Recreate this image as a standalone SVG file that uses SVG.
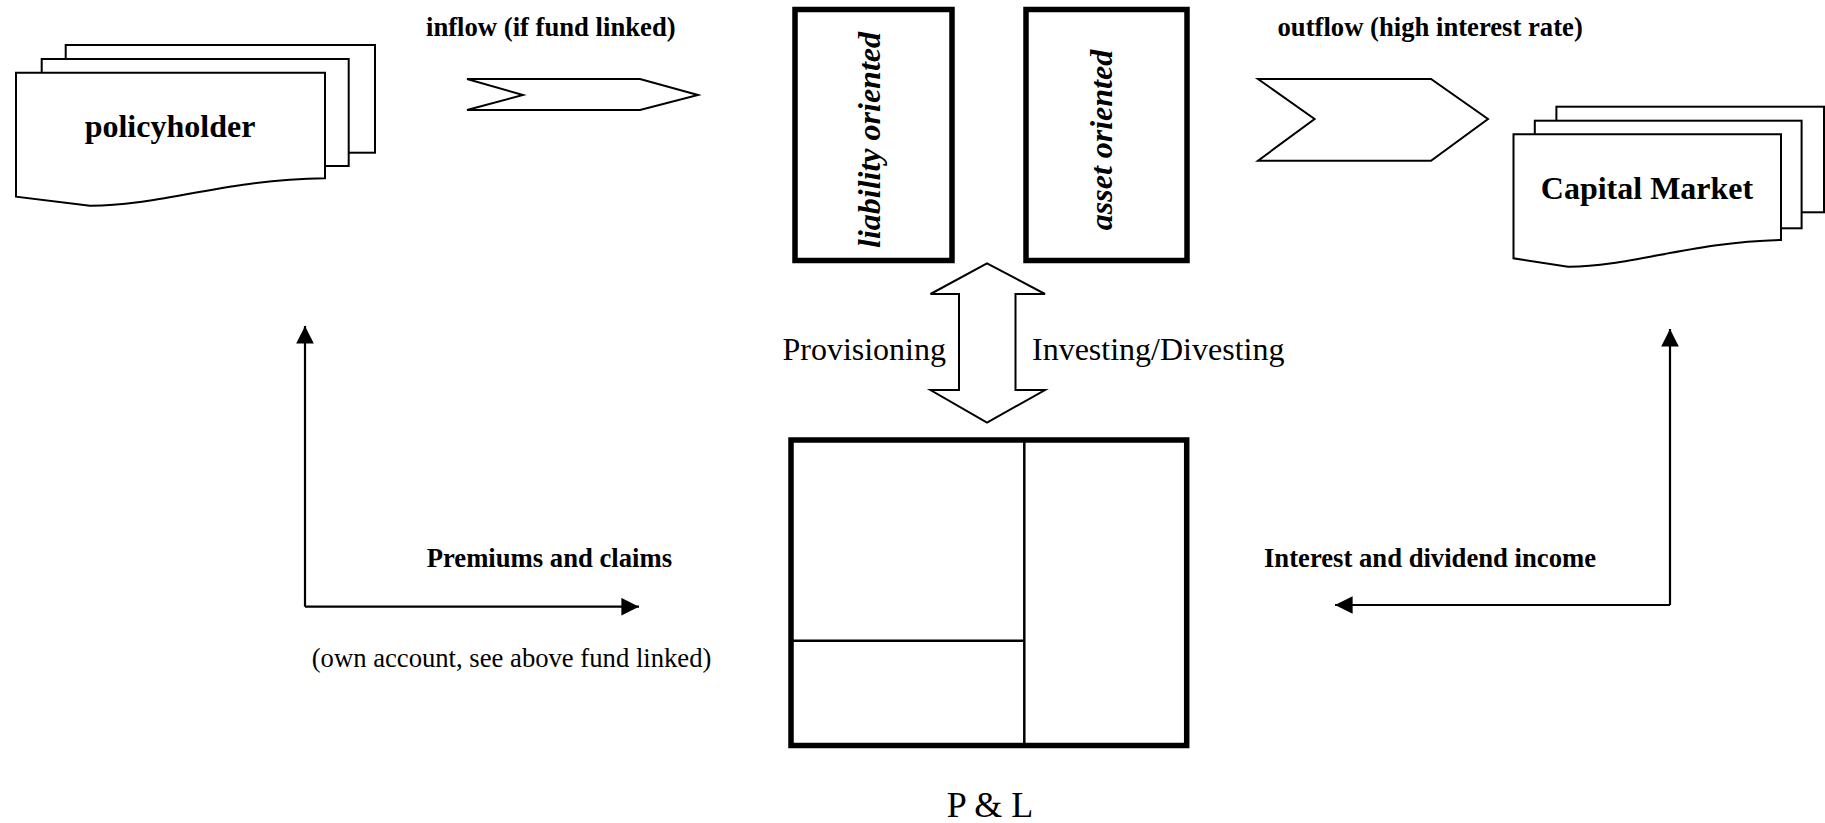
<svg xmlns="http://www.w3.org/2000/svg" width="1825" height="823" viewBox="0 0 1825 823">
<style>
  .pg { fill: #fff; stroke: #000; stroke-width: 2; }
  .thick { fill: #fff; stroke: #000; stroke-width: 5.5; }
  .thin { fill: none; stroke: #000; stroke-width: 2.5; }
  .conn { fill: none; stroke: #000; stroke-width: 2.2; }
  .b { font-family: "Liberation Serif", "Times New Roman", serif; font-weight: bold; fill: #000; }
  .r { font-family: "Liberation Serif", "Times New Roman", serif; fill: #000; }
  .bi { font-family: "Liberation Serif", "Times New Roman", serif; font-weight: bold; font-style: italic; fill: #000; }
</style>
<defs>
  <marker id="ah" viewBox="0 0 10 10" refX="10" refY="5" markerWidth="8" markerHeight="8" markerUnits="strokeWidth" orient="auto">
    <path d="M0,0 L10,5 L0,10 Z" fill="#000"/>
  </marker>
</defs>
<rect width="1825" height="823" fill="#fff"/>

<g id="policyholder">
  <rect class="pg" x="65.7" y="45" width="309.3" height="107.7"/>
  <rect class="pg" x="41.7" y="59" width="307" height="107"/>
  <path class="pg" d="M16,72.7 H325 V178.3 C 220,180 160,206 90,205.7 L16,196.7 Z"/>
  <text class="b" x="170" y="137" font-size="32" text-anchor="middle">policyholder</text>
</g>

<g id="inflow">
  <polygon class="pg" points="467,79 640,79 698,95 640,110 467,110 523,95"/>
  <text class="b" x="426" y="35.7" font-size="26.67">inflow (if fund linked)</text>
</g>

<g id="liability">
  <rect class="thick" x="795" y="9.5" width="157" height="251"/>
  <text class="bi" font-size="32" text-anchor="middle" transform="translate(880,140) rotate(-90)">liability oriented</text>
</g>

<g id="asset">
  <rect class="thick" x="1026" y="9.5" width="161" height="251"/>
  <text class="bi" font-size="32" text-anchor="middle" transform="translate(1112,140) rotate(-90)">asset oriented</text>
</g>

<g id="outflow">
  <polygon class="pg" points="1258,79 1431,79 1488,119 1431,160.7 1258,160.7 1314.6,119"/>
  <text class="b" x="1277.5" y="36" font-size="26.67">outflow (high interest rate)</text>
</g>

<g id="capital-market">
  <rect class="pg" x="1556.4" y="106.7" width="267.6" height="105.6"/>
  <rect class="pg" x="1534.8" y="120.7" width="266.8" height="107.6"/>
  <path class="pg" d="M1513.5,134.3 H1781 V240 C 1690,242 1630,267 1568,266.7 L1513.5,258.3 Z"/>
  <text class="b" x="1647" y="199" font-size="32" text-anchor="middle">Capital Market</text>
</g>

<g id="double-arrow">
  <polygon class="pg" points="987,263.3 1045,294 1015.5,294 1015.5,390 1045,390 987,422.7 930.5,390 959,390 959,294 930.5,294"/>
  <text class="r" x="946" y="360" font-size="32" text-anchor="end">Provisioning</text>
  <text class="r" x="1032" y="360" font-size="32">Investing/Divesting</text>
</g>

<g id="pl">
  <rect class="thick" x="791" y="440" width="395.7" height="305.5"/>
  <line class="thin" x1="1024.3" y1="442" x2="1024.3" y2="744"/>
  <line class="thin" x1="793" y1="640.7" x2="1024.3" y2="640.7"/>
  <text class="r" x="990" y="816.7" font-size="36" text-anchor="middle">P &amp; L</text>
</g>

<g id="connectors">
  <path class="conn" d="M305,606.7 V326" marker-end="url(#ah)"/>
  <path class="conn" d="M305,606.7 H639" marker-end="url(#ah)"/>
  <path class="conn" d="M1670,605 V329" marker-end="url(#ah)"/>
  <path class="conn" d="M1670,605 H1335" marker-end="url(#ah)"/>
</g>

<g id="labels">
  <text class="b" x="426.7" y="566.7" font-size="26.67">Premiums and claims</text>
  <text class="r" x="311.7" y="667.3" font-size="26.67">(own account, see above fund linked)</text>
  <text class="b" x="1264" y="566.7" font-size="26.67">Interest and dividend income</text>
</g>
</svg>
